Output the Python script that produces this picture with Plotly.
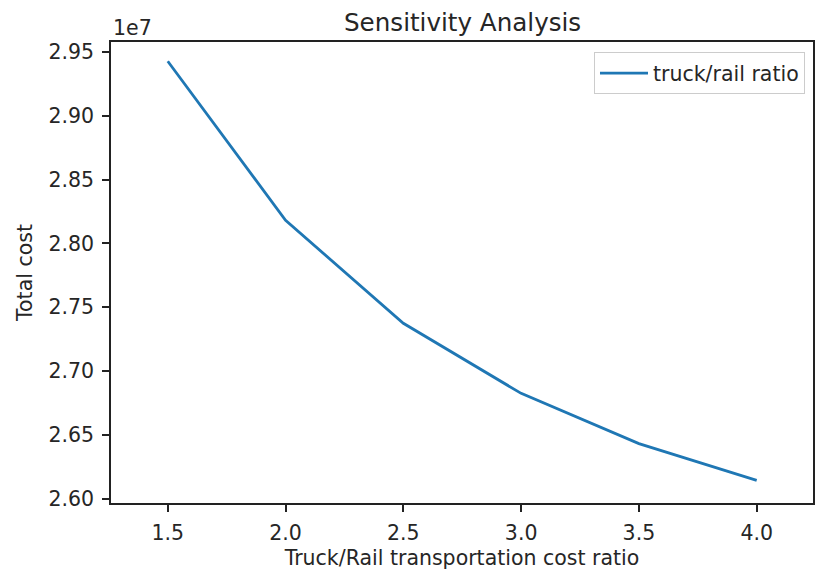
import plotly.graph_objects as go

ratio = [1.5, 2.0, 2.5, 3.0, 3.5, 4.0]
total_cost = [29427000, 28181000, 27374000, 26825000, 26431000, 26143000]

x_ticks = [1.5, 2.0, 2.5, 3.0, 3.5, 4.0]
x_tick_labels = ["1.5", "2.0", "2.5", "3.0", "3.5", "4.0"]
y_ticks = [2.60e7, 2.65e7, 2.70e7, 2.75e7, 2.80e7, 2.85e7, 2.90e7, 2.95e7]
y_tick_labels = ["2.60", "2.65", "2.70", "2.75", "2.80", "2.85", "2.90", "2.95"]

FONT = "DejaVu Sans"
fs = 20.5
TXT = "#262626"

fig = go.Figure()
fig.add_trace(go.Scatter(
    x=ratio, y=total_cost, mode="lines", name="truck/rail ratio",
    line=dict(color="#1f77b4", width=2.8),
))

axis_common = dict(
    showline=True, mirror=True, linecolor="#222", linewidth=1.5,
    ticks="outside", ticklen=7, tickwidth=1.5, tickcolor="#222",
    showgrid=False, zeroline=False, automargin=False,
    tickfont=dict(family=FONT, size=fs, color=TXT),
)

fig.update_layout(
    width=815, height=574,
    margin=dict(l=111, r=2, t=42, b=71, autoexpand=False),
    paper_bgcolor="white", plot_bgcolor="white",
    font=dict(family=FONT, size=fs, color=TXT),
    showlegend=True,
    legend=dict(
        x=0.9886, y=0.9777, xanchor="right", yanchor="top",
        itemwidth=48,
        bgcolor="rgba(255,255,255,0.8)", bordercolor="#cccccc", borderwidth=1,
        font=dict(family=FONT, size=fs, color=TXT),
    ),
    xaxis=dict(
        range=[1.259, 4.239], tickvals=x_ticks, ticktext=x_tick_labels,
        ticklabelstandoff=4,
        title=dict(text="Truck/Rail transportation cost ratio", standoff=6,
                   font=dict(family=FONT, size=fs, color=TXT)),
        **axis_common,
    ),
    yaxis=dict(
        range=[2.5966e7, 2.9578e7], tickvals=y_ticks, ticktext=y_tick_labels,
        ticklabelstandoff=4,
        title=dict(text="Total cost", standoff=10,
                   font=dict(family=FONT, size=fs, color=TXT)),
        **axis_common,
    ),
    annotations=[
        dict(text="Sensitivity Analysis", x=0.5, y=1, xref="paper", yref="paper",
             xanchor="center", yanchor="bottom", yshift=3, showarrow=False,
             font=dict(family=FONT, size=24.6, color=TXT)),
        dict(text="1e7", x=0, y=1, xref="paper", yref="paper",
             xanchor="left", yanchor="bottom", yshift=0, showarrow=False,
             font=dict(family=FONT, size=fs, color=TXT)),
    ],
)

fig.write_html("out.html", config={"displayModeBar": False},
               post_script="document.body.style.margin='0';")
